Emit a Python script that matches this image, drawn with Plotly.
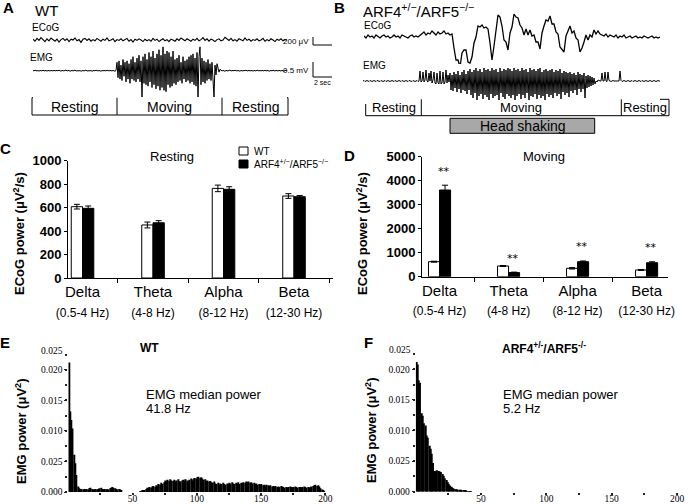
import plotly.graph_objects as go

W, H = 688, 504
SANS = "Arial, Liberation Sans, sans-serif"
SERIF = "Times New Roman, Liberation Serif, serif"

# ---------------- data ----------------
# Panel A (WT) traces
ecog_wt = [20, -30, 40, -10, 60, 10, -40, 30, -20, 50, 0, -30, 20, -50, 10, 40,
           -10, 30, -40, 20, 0, 50, -20, 10, -60, 20, 40, -10, 30, -30, 10, -20,
           40, 0, -30, 20, -10, 50, -20, 0, 30, -40, 10, -10, 30, -20, 0, 40,
           -30, 10, -50, 20, -10, 30, 0, -40, 20, -20, 10, -30, 40, -10, 20, -40,
           0, 30, -20, 10, -40, 20, 0, -30, 30, -10, 50, 10, -20, 30, 0, -30,
           20, -10, 40, -20, 10, 60, -10, 30, -30, 20, 0, -40, 10, 30, -20, 0,
           70, 20, -10, 40, -20, 10, -30, 30, 0, -20, 50, -10, 20, -30, 10, -10,
           30, -20, 0, 40, -30, 10, -20, 30, 0, -40, 20, -10, 30, -20, 10, 0]
emg_wt_rest1 = [0.01, -0.01, 0.02, 0, -0.01, 0.01, -0.02, 0.01, 0, -0.01,
                0.02, -0.01, 0, 0.01, -0.02, 0.01, 0, -0.01, 0.01, 0,
                -0.01, 0.02, -0.01, 0, 0.01, -0.01, 0.02, 0, -0.02, 0.01,
                0, -0.01, 0.01, 0.02, -0.01, 0, 0.01, -0.02, 0, 0.01,
                -0.01, 0, 0.02, -0.01, 0.01, 0, -0.01, 0.01, -0.02, 0,
                0.01, -0.01, 0, 0.02, -0.01, 0.01, 0, -0.01, 0.01, -0.02,
                0, 0.01, -0.01, 0.02, 0, -0.01, 0.01, 0, -0.02, 0.01,
                -0.01, 0.01, 0, -0.01, 0.02, 0, -0.01, 0.01, 0, -0.01,
                0.01, 0, -0.02, 0.01]
emg_wt_move = [0.3, -0.25, 0.35, -0.3, 0.2, -0.35, 0.4, -0.2, 0.3, -0.4,
               0.35, -0.3, 0.25, -0.45, 0.4, -0.3, 0.5, -0.35, 0.3, -0.4,
               0.45, -0.3, 0.55, -0.4, 0.35, -0.94, 0.5, -0.45, 0.6, -0.5,
               0.4, -0.55, 0.65, -0.4, 0.5, -0.6, 0.7, -0.5, 0.45, -0.65,
               0.6, -0.55, 0.75, -0.7, 0.55, -0.6, 0.85, -0.7, 0.6, -0.75,
               0.7, -0.5, 0.65, -0.6, 0.5, -0.55, 0.7, -0.45, 0.4, -0.5,
               0.45, -0.4, 0.55, -0.35, 0.3, -0.45, 0.5, -0.3, 0.35, -0.4,
               0.4, -0.35, 0.5, -0.45, 0.55, -0.4, 0.6, -0.5, 0.45, -0.55,
               0.65, -0.94, 0.5, 0.85, -0.5, 0.45, -0.4, 0.35, -0.45, 0.3,
               -0.35, 0.4, -0.3, 0.25, -0.35, 0.3, -0.25, -0.94, 0.2, -0.15,
               0.25, 0.1, -0.05, 0.05]
emg_wt_rest2 = [0.02, -0.01, 0.01, 0, -0.02, 0.01, 0, -0.01, 0.01, 0.02,
                -0.01, 0, 0.01, -0.01, 0.02, 0, -0.01, 0.01, 0, -0.02,
                0.01, 0, -0.01, 0.01, 0, 0.02, -0.01, 0, 0.01, -0.01,
                0, 0.01, -0.02, 0.01, 0, -0.01, 0.02, 0, -0.01, 0.01,
                -0.01, 0.01, 0, -0.01, 0.02, -0.01, 0, 0.01, -0.02, 0,
                0.01, -0.01, 0.02, 0, -0.01, 0.01, 0, -0.01, 0.01, 0,
                -0.01, 0.01, 0, -0.02, 0.01, 0, 0.01]

# Panel B (ARF4+/-/ARF5-/-) traces
ecog_ko_rest1 = [0, -2, 1, -1, 0, -2, 1, -1, -2, 0, 1, -1, 0, -2, -1, 1, -1, 0, -2, 1,
                 0, -1, -2, 0, 1, -1, 0, -1, 1]
ecog_ko_pre = [2, 4, 1, 3, 2, 5, 3, 1, 4, 2, 3, 5, 2, 3, 1, 2]
ecog_ko_move = [-12, -24, -24, -31, -17, -14, -14, -26, -27, -21,
                -7, -1, 10, 9, 11, 8, 9, 7, -7, -24,
                -10, 4, 21, 19, 10, -4, -6, -14, 3, 9,
                22, 19, 18, 11, 8, 1, 7, 1, 6, 0,
                1, -6, -6, -13, 3, 10, 16, 15, 20, 12,
                12, 4, 2, -11, -14, -16, 0, 6, 10, 3,
                5, -2, -4, -16, -12, -6, 1, -4, 1, -1,
                6, 2, 5]
ecog_ko_rest2 = [2, 1, 0, 2, -1, 1, 0, -1, 1, -2, 0, -1, 1, -2, -1, 0, -2, -1, 0, -2,
                 -1, -2, 0, -1, -2, -1, 0, -2, -1, -2, -1]
emg_ko_rest1 = [0, 0.5, -0.5, 0, 0.5, 0, -0.5, 0.5, 0, -0.5,
                0, 0.5, 0, -0.5, 0.5, 0, 0, -0.5, 0.5, 0,
                -0.5, 0, 0.5, -0.5, 0, 0.5, 0, -0.5, 0, 0.5,
                0, -0.5, 0.5, 0, -0.5, 0, 0.5, 0, -0.5, 0.5,
                0, -0.5, 0, 0.5, 0, -0.5, 0.5, 0, 0, -0.5,
                0.5, 0, -0.5, 0, 0.5, -0.5, 0]
emg_ko_onset = [10, -1, 0, 9, -1, 1, 11, 0, -1, 8, 0, 10, -2, 1, 9, -2, -3, 8, -2, -3,
                10, -3, -2, 9, -3, -1, 11, -2, 6, -1]
emg_ko_shake = [8, -9, 6, -10, 9, -7, 7, -11, 10, -8, 6, -12, 9, -9, 11, -10, 7, -13, 10, -9,
                12, -14, 9, -17, 11, -12, 13, -19, 10, -15, 12, -13, 9, -18, 13, -14, 11, -16, 12, -19,
                10, -13, 13, -17, 11, -15, 12, -14, 9, -19, 13, -12, 10, -16, 12, -18, 11, -13, 13, -15,
                12, -17, 10, -14, 13, -19, 11, -15, 12, -13, 10, -18, 13, -14, 11, -17, 12, -12, 9, -19,
                13, -15, 11, -16, 12, -13, 10, -18, 12, -14, 13, -17, 9, -15, 11, -19, 12, -13, 10, -16,
                11, -14, 12, -17, 9, -12, 11, -15, 10, -13, 12, -18, 8, -11, 10, -14, 9, -12, 8, -16,
                9, -10, 7, -12, 8, -9, 6, -14, 9, -8, 7, -11, 6, -8, 8, -17, 5, -7, 6, -6,
                5, -5, 4, -4, 3, -3]
emg_ko_rest2 = [0, -1, 1, 0, 0, 0, 8, 0, 0, 9, 0, -0.5, 9, 0.5, 0, -0.5, 0, 0.5, 0, 0,
                0, 0, 0, 0, 10, 0.5, -0.5, 0, 0.5, 0,
                -0.5, 0, 0.5, 0, -0.5, 0, 0.5, -0.5, 0, 0.5,
                0, -0.5, 0, 0.5, 0, -0.5, 0.5, 0, -0.5, 0,
                0.5, 0, -0.5, 0, 0.5, 0, -0.5, 0, 0.5, 0,
                -0.5, 0, 0.5, 0, 0]

# Panels C and D (ECoG power, uV^2/s)
bands = ["Delta", "Theta", "Alpha", "Beta"]
band_ranges = ["(0.5-4 Hz)", "(4-8 Hz)", "(8-12 Hz)", "(12-30 Hz)"]
groups = ["WT", "ARF4<sup>+/−</sup>/ARF5<sup>−/−</sup>"]
wt_rest = [608, 452, 764, 699]
wt_rest_err = [20, 25, 28, 20]
ko_rest = [594, 471, 756, 693]
ko_rest_err = [20, 18, 22, 10]
wt_move = [625, 446, 350, 280]
wt_move_err = [20, 20, 30, 20]
ko_move = [3612, 170, 625, 583]
ko_move_err = [200, 20, 30, 40]
sig_move = ["**", "**", "**", "**"]

# Panels E and F (EMG power spectrum, 1 Hz bins from 0 Hz)
emg_psd_wt = [
    0.0212, 0.0132, 0.0118, 0.0104, 0.0061, 0.0047, 0.0028, 0.0009, 0.0006, 0.0005,
    0.0005, 0.0004, 0.0005, 0.0004, 0.0005, 0.0004, 0.0006, 0.0007, 0.0005, 0.0004,
    0.0004, 0.0005, 0.0004, 0.0005, 0.0006, 0.0007, 0.0005, 0.0004, 0.0005, 0.0004,
    0.0005, 0.0004, 0.0006, 0.0007, 0.0008, 0.0007, 0.0006, 0.0005, 0.0004, 0.0005,
    0.0004, 0.0002, 0, 0, 0, 0, 0, 0, 0, 0,
    0, 0, 0, 0, 0, 0, 0.0001, 0.0002, 0.0003, 0.0003,
    0.0005, 0.0007, 0.0006, 0.0008, 0.0007, 0.0009, 0.0010, 0.0008, 0.0011, 0.0010,
    0.0013, 0.0012, 0.0015, 0.0013, 0.0016, 0.0019, 0.0017, 0.0020, 0.0018, 0.0021,
    0.0019, 0.0018, 0.0020, 0.0017, 0.0019, 0.0021, 0.0018, 0.0017, 0.0019, 0.0020,
    0.0018, 0.0021, 0.0019, 0.0017, 0.0020, 0.0022, 0.0019, 0.0021, 0.0023, 0.0022,
    0.0024, 0.0025, 0.0023, 0.0024, 0.0022, 0.0020, 0.0021, 0.0018, 0.0019, 0.0017,
    0.0018, 0.0016, 0.0015, 0.0017, 0.0014, 0.0013, 0.0015, 0.0012, 0.0014, 0.0013,
    0.0015, 0.0013, 0.0012, 0.0014, 0.0013, 0.0015, 0.0014, 0.0016, 0.0014, 0.0013,
    0.0015, 0.0014, 0.0016, 0.0013, 0.0015, 0.0014, 0.0016, 0.0015, 0.0017, 0.0016,
    0.0017, 0.0015, 0.0016, 0.0014, 0.0015, 0.0013, 0.0014, 0.0012, 0.0013, 0.0012,
    0.0013, 0.0011, 0.0012, 0.0010, 0.0012, 0.0011, 0.0010, 0.0011, 0.0009, 0.0010,
    0.0009, 0.0010, 0.0008, 0.0009, 0.0008, 0.0010, 0.0009, 0.0008, 0.0007, 0.0008,
    0.0007, 0.0008, 0.0009, 0.0008, 0.0007, 0.0008, 0.0009, 0.0008, 0.0007, 0.0008,
    0.0008, 0.0007, 0.0008, 0.0009, 0.0008, 0.0007, 0.0008, 0.0007, 0.0008, 0.0009,
    0.0010, 0.0011, 0.0012, 0.0010, 0.0011, 0.0009, 0.0006, 0.0004, 0.0002, 0.0001]
emg_psd_ko = [
    0.0212, 0.0208, 0.0182, 0.0178, 0.0128, 0.0124, 0.0112, 0.0108, 0.0092, 0.0088,
    0.0075, 0.0070, 0.0062, 0.0047, 0.0034, 0.0033, 0.0035, 0.0034, 0.0033, 0.0032,
    0.0029, 0.0026, 0.0022, 0.0019, 0.0016, 0.0013, 0.0010, 0.0008, 0.0006, 0.0005,
    0.0004, 0.0004, 0.0003, 0.0003, 0.0003, 0.0002, 0.0002, 0.0002, 0.0002, 0.0001,
    0.0001, 0.0001, 0.0001]
median_wt = 41.8
median_ko = 5.2
psd_ticks = [25, 50, 75, 100, 125, 150, 175, 200]
psd_ticktext = ["", "50", "", "100", "", "150", "", "200"]
psd_yticks = [0, 0.005, 0.010, 0.015, 0.020]
psd_yticktext = ["0.000", "0.025", "0.010", "0.015", "0.020"]


# ---------------- helpers ----------------
def px(x):
    return x / W


def py(y):
    return 1 - y / H


def txt(x, y, s, size=12, xanchor="center", family=SANS, angle=0, yanchor="middle", color="black"):
    return dict(x=px(x), y=py(y), xref="paper", yref="paper", text=s, showarrow=False,
                xanchor=xanchor, yanchor=yanchor, textangle=angle,
                font=dict(size=size, family=family, color=color))


def line_shape(x0, y0, x1, y1, w=1):
    return dict(type="line", xref="paper", yref="paper", x0=px(x0), y0=py(y0), x1=px(x1), y1=py(y1),
                line=dict(color="black", width=w))


def rect(x0, y0, x1, y1, fill="rgba(0,0,0,0)"):
    return dict(type="rect", xref="paper", yref="paper", x0=px(x0), y0=py(y1), x1=px(x1), y1=py(y0),
                line=dict(color="black", width=1), fillcolor=fill, layer="below")


fig = go.Figure()

# ---------- traces A / B ----------
emg_wt = emg_wt_rest1 + emg_wt_move + emg_wt_rest2
ecog_ko = ecog_ko_rest1 + ecog_ko_pre + ecog_ko_move + ecog_ko_rest2
emg_ko = emg_ko_rest1 + emg_ko_onset + emg_ko_shake + emg_ko_rest2

for sig, ax, w in [(ecog_wt, "", 1.1), (emg_wt, "2", 1.0), (ecog_ko, "3", 1.3), (emg_ko, "4", 1.0)]:
    fig.add_trace(go.Scatter(x=list(range(len(sig))), y=sig, mode="lines",
                             line=dict(color="black", width=w), showlegend=False,
                             xaxis="x" + ax, yaxis="y" + ax, hoverinfo="skip"))

# ---------- bars C / D ----------
def bars(wt, wt_e, ko, ko_e, ax):
    fig.add_trace(go.Bar(x=bands, y=wt, name=groups[0],
                         error_y=dict(type="data", array=wt_e, color="black", thickness=1, width=3),
                         marker=dict(color="white", line=dict(color="black", width=1)),
                         xaxis="x" + ax, yaxis="y" + ax, showlegend=False))
    fig.add_trace(go.Bar(x=bands, y=ko, name=groups[1],
                         error_y=dict(type="data", array=ko_e, color="black", thickness=1, width=3),
                         marker=dict(color="black", line=dict(color="black", width=1)),
                         xaxis="x" + ax, yaxis="y" + ax, showlegend=False))


bars(wt_rest, wt_rest_err, ko_rest, ko_rest_err, "5")
bars(wt_move, wt_move_err, ko_move, ko_move_err, "6")

# ---------- spectra E / F ----------
for psd, ax in [(emg_psd_wt, "7"), (emg_psd_ko, "8")]:
    fig.add_trace(go.Bar(x=list(range(len(psd))), y=psd, width=1, offset=0,
                         marker=dict(color="black", line=dict(width=0)),
                         xaxis="x" + ax, yaxis="y" + ax, showlegend=False))

hidden = dict(visible=False, showgrid=False, zeroline=False)
cat_ticks = [f"{b}<br><span style='font-size:12px'>{r}</span>" for b, r in zip(bands, band_ranges)]

bar_x = dict(type="category", showline=True, linecolor="black", linewidth=1, ticks="outside",
             ticklen=4, tickson="boundaries", tickcolor="black", showgrid=False, zeroline=False,
             tickmode="array", tickvals=bands, ticktext=cat_ticks,
             tickfont=dict(size=15, family=SANS, color="black"))
bar_y = dict(showline=True, linecolor="black", linewidth=1, ticks="outside", ticklen=3,
             tickcolor="black", showgrid=False, zeroline=False,
             tickfont=dict(size=13, family=SANS, color="black", weight="bold"))
psd_x = dict(range=[0, 200], showline=False, showgrid=False, zeroline=False, ticks="outside",
             ticklen=2, tickwidth=2, tickcolor="#222", tickmode="array", tickvals=psd_ticks,
             ticktext=psd_ticktext, ticklabelstandoff=-4,
             tickfont=dict(size=9.5, family=SERIF, color="black"))
psd_y = dict(showline=False, showgrid=False, zeroline=False, ticks="outside", ticklen=3,
             tickcolor="#222", tickmode="array", tickvals=psd_yticks, ticktext=psd_yticktext,
             tickfont=dict(size=9.5, family=SERIF, color="black"),
             minor=dict(ticks="outside", ticklen=2, tickwidth=1.5, tickcolor="#222", dtick=0.0025, tick0=0))

fig.update_layout(
    width=W, height=H, margin=dict(l=0, r=0, t=0, b=0, autoexpand=False),
    paper_bgcolor="white", plot_bgcolor="white",
    barmode="group", bargap=0.68, bargroupgap=0,
    font=dict(family=SANS, color="black"),
    showlegend=False,
    xaxis=dict(domain=[px(33), px(287)], range=[0, len(ecog_wt) - 1], **hidden),
    yaxis=dict(domain=[py(50), py(30)], range=[-250, 250], **hidden),
    xaxis2=dict(domain=[px(33), px(287)], range=[0, len(emg_wt) - 1], **hidden),
    yaxis2=dict(domain=[py(100), py(44)], range=[-1.046, 0.953], **hidden),
    xaxis3=dict(domain=[px(364), px(660)], range=[0, len(ecog_ko) - 1], **hidden),
    yaxis3=dict(domain=[py(70), py(8)], range=[-34, 28], **hidden),
    xaxis4=dict(domain=[px(363), px(660)], range=[0, len(emg_ko) - 1], **hidden),
    yaxis4=dict(domain=[py(104), py(64)], range=[-23, 17], **hidden),
    xaxis5=dict(domain=[px(68), px(333)], range=[-0.206, 3.553], anchor="y5", **bar_x),
    yaxis5=dict(domain=[py(278), py(160.7)], range=[0, 1000], dtick=200, anchor="x5", **bar_y),
    xaxis6=dict(domain=[px(422), px(668)], range=[-0.254, 3.31], anchor="y6", **bar_x),
    yaxis6=dict(domain=[py(276.7), py(156.7)], range=[0, 5000], dtick=1000, anchor="x6", **bar_y),
    xaxis7=dict(domain=[px(68.3), px(325.3)], anchor="y7", **psd_x),
    yaxis7=dict(domain=[py(492), py(351)], range=[0, 0.0231], anchor="x7", **psd_y),
    xaxis8=dict(domain=[px(415.7), px(677)], anchor="y8", **psd_x),
    yaxis8=dict(domain=[py(491.7), py(350)], range=[0, 0.02315], anchor="x8", **psd_y),
)

ann = []
# panel letters
for s, x, y in [("A", 8, 8), ("B", 339, 8), ("C", 5, 148), ("D", 349, 155), ("E", 5, 342), ("F", 369, 342)]:
    ann.append(txt(x, y, f"<b>{s}</b>", size=15))
# panel A labels
ann += [txt(33, 10, "WT", 15, "left"), txt(30, 27, "ECoG", 10, "left"), txt(28, 57, "EMG", 10, "left"),
        txt(311, 41.5, "200 μV", 8, "right"), txt(311, 70.5, "0.5 mV", 8, "right"),
        txt(322.5, 83, "2 sec", 7),
        txt(74.5, 106.5, "Resting", 14), txt(169.5, 106.5, "Moving", 14), txt(255, 106.5, "Resting", 14)]
# panel B labels
ann += [txt(361, 10, "ARF4<sup>+/−</sup>/ARF5<sup>−/−</sup>", 15, "left"),
        txt(362, 25, "ECoG", 10, "left"), txt(361, 65, "EMG", 10, "left"),
        txt(393.5, 107.5, "Resting", 13), txt(521, 107.5, "Moving", 13), txt(645, 107.5, "Resting", 13),
        txt(522.5, 126, "Head shaking", 14)]
# panels C / D
ann += [txt(172, 156, "Resting", 13), txt(544, 156, "Moving", 13),
        txt(19, 234, "<b>ECoG power (μV<sup>2</sup>/s)</b>", 13, angle=-90),
        txt(362, 234, "<b>ECoG power (μV<sup>2</sup>/s)</b>", 13, angle=-90)]
# legend of panel C (drawn as a compact key)
ann += [txt(252, 151, groups[0], 10, "left"), txt(252, 164, groups[1], 10, "left")]
for b, v, e, s in zip(bands, ko_move, ko_move_err, sig_move):
    ann.append(dict(x=b, y=v + e, xref="x6", yref="y6", text=s, showarrow=False, yanchor="middle",
                    yshift=14, xshift=4, font=dict(size=11, family="DejaVu Sans, sans-serif", color="black")))
# panels E / F
ann += [txt(21, 432, "<b>EMG power (μV<sup>2</sup>)</b>", 13, angle=-90),
        txt(371, 431, "<b>EMG power (μV<sup>2</sup>)</b>", 13, angle=-90),
        txt(149, 348, "<b>WT</b>", 12),
        txt(144, 394, "EMG median power", 13, "left"), txt(144, 408, f"{median_wt} Hz", 13, "left"),
        txt(500, 348, "<b>ARF4<sup>+/-</sup>/ARF5<sup>-/-</sup></b>", 12, "left"),
        txt(501, 394, "EMG median power", 13, "left"), txt(501, 408, f"{median_ko} Hz", 13, "left")]
# 0.025 top labels of spectra
ann += [txt(65, 351, "0.025", 9.5, "right", family=SERIF), txt(412.5, 350, "0.025", 9.5, "right", family=SERIF)]

shapes = [
    rect(32, 97.7, 288, 115), line_shape(117, 97.7, 117, 115), line_shape(222, 97.7, 222, 115),
    rect(365.7, 99.3, 669, 115.7), line_shape(421.3, 99.3, 421.3, 115.7), line_shape(621.3, 99.3, 621.3, 115.7),
    rect(450, 118.3, 594.7, 133.3, fill="#a8a8a8"),
    line_shape(313, 37, 313, 45), line_shape(313, 45, 332, 45),
    line_shape(313, 62, 313, 77), line_shape(313, 77, 332, 77),
    # legend keys for panel C
    rect(239, 147, 248, 155, fill="white"), rect(239, 160, 248, 168, fill="black"),
]
fig.update_layout(annotations=ann, shapes=shapes)
fig.write_html("out.html", config={"displayModeBar": False},
               post_script="document.body.style.margin='0';document.body.style.padding='0';")
